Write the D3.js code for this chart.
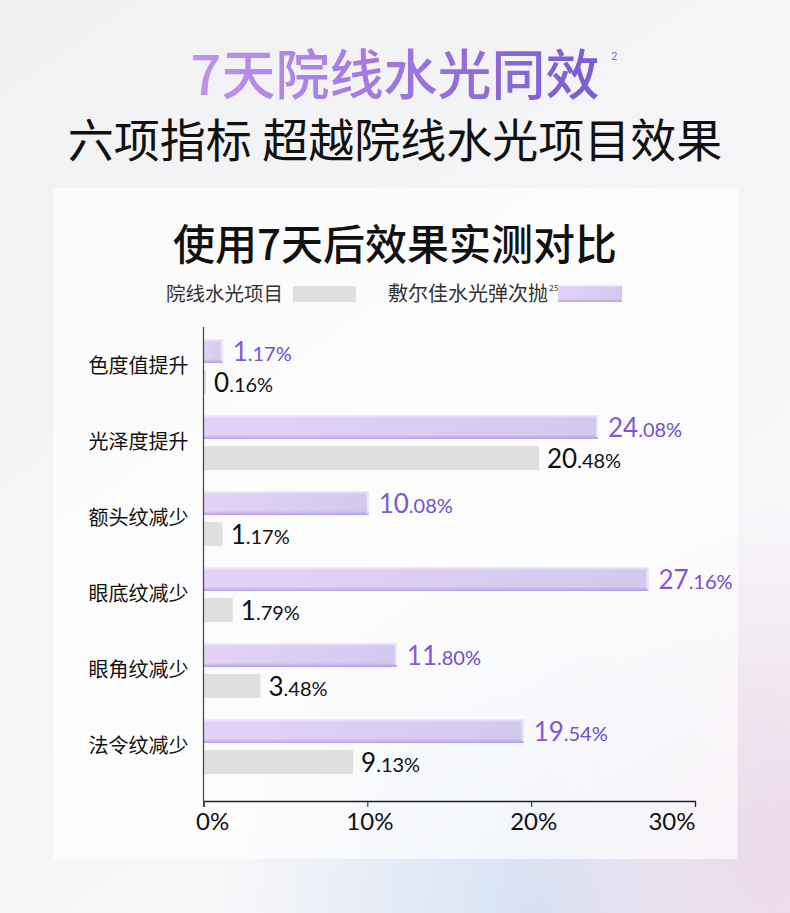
<!DOCTYPE html>
<html>
<head>
<meta charset="utf-8">
<script src="https://cdn.jsdelivr.net/npm/d3@7"></script>
<style>
  html, body { margin: 0; padding: 0; background: #f3f3f5; }
  svg { display: block; }
</style>
</head>
<body>
<script>
// chart data
var categories = ["色度值提升", "光泽度提升", "额头纹减少", "眼底纹减少", "眼角纹减少", "法令纹减少"];
var brandValues = [1.17, 24.08, 10.08, 27.16, 11.80, 19.54];   // 敷尔佳水光弹次抛
var clinicValues = [0.16, 20.48, 1.17, 1.79, 3.48, 9.13];      // 院线水光项目
var xTicks = [0, 10, 20, 30];
var seriesNames = ["院线水光项目", "敷尔佳水光弹次抛"];

var width = 790;
var height = 913;
var cjk = "'Noto Sans CJK SC', 'Noto Sans', sans-serif";
var num = "Lato, 'Open Sans', sans-serif";

var svg = d3.select("body")
  .append("svg")
  .attr("width", width)
  .attr("height", height);

var defs = svg.append("defs");

// page background
var bg = defs.append("linearGradient").attr("id", "bg")
  .attr("x1", 0).attr("y1", 0).attr("x2", 0.6).attr("y2", 1);
bg.append("stop").attr("offset", 0).attr("stop-color", "#f1f1f3");
bg.append("stop").attr("offset", 0.5).attr("stop-color", "#f5f5f7");
bg.append("stop").attr("offset", 1).attr("stop-color", "#f8f7fa");

var glow = defs.append("radialGradient").attr("id", "glow")
  .attr("cx", 0.68).attr("cy", 1.0).attr("r", 0.4);
glow.append("stop").attr("offset", 0).attr("stop-color", "#d4e1f3").attr("stop-opacity", 1);
glow.append("stop").attr("offset", 1).attr("stop-color", "#d4e1f3").attr("stop-opacity", 0);

var glow2 = defs.append("radialGradient").attr("id", "glow2")
  .attr("cx", 1.0).attr("cy", 0.93).attr("r", 0.38);
glow2.append("stop").attr("offset", 0).attr("stop-color", "#ecd8e8").attr("stop-opacity", 1);
glow2.append("stop").attr("offset", 1).attr("stop-color", "#ecd8e8").attr("stop-opacity", 0);

var titleGrad = defs.append("linearGradient").attr("id", "titleGrad")
  .attr("x1", 0).attr("y1", 0).attr("x2", 1).attr("y2", 0);
titleGrad.append("stop").attr("offset", 0).attr("stop-color", "#c193ec");
titleGrad.append("stop").attr("offset", 1).attr("stop-color", "#7b5bd1");

var barGrad = defs.append("linearGradient").attr("id", "barGrad")
  .attr("x1", 0).attr("y1", 0).attr("x2", 1).attr("y2", 0);
barGrad.append("stop").attr("offset", 0).attr("stop-color", "#e3d2f6");
barGrad.append("stop").attr("offset", 1).attr("stop-color", "#d2c8ee");

var barShade = defs.append("linearGradient").attr("id", "barShade")
  .attr("x1", 0).attr("y1", 0).attr("x2", 0).attr("y2", 1);
barShade.append("stop").attr("offset", 0).attr("stop-color", "#f4effd").attr("stop-opacity", 0.9);
barShade.append("stop").attr("offset", 0.15).attr("stop-color", "#f4effd").attr("stop-opacity", 0);
barShade.append("stop").attr("offset", 0.82).attr("stop-color", "#a98fe0").attr("stop-opacity", 0);
barShade.append("stop").attr("offset", 1).attr("stop-color", "#a98fe0").attr("stop-opacity", 0.75);

var valGrad = defs.append("linearGradient").attr("id", "valGrad")
  .attr("x1", 0).attr("y1", 0).attr("x2", 1).attr("y2", 0);
valGrad.append("stop").attr("offset", 0).attr("stop-color", "#8a5bd8");
valGrad.append("stop").attr("offset", 1).attr("stop-color", "#6549c6");

svg.append("rect").attr("width", width).attr("height", height).attr("fill", "url(#bg)");
svg.append("rect").attr("width", width).attr("height", height).attr("fill", "url(#glow)");
svg.append("rect").attr("width", width).attr("height", height).attr("fill", "url(#glow2)");

// panel
svg.append("rect")
  .attr("x", 53).attr("y", 188)
  .attr("width", 685).attr("height", 671)
  .attr("fill", "#ffffff").attr("fill-opacity", 0.65);

// headings
svg.append("text")
  .attr("x", 395).attr("y", 95)
  .attr("text-anchor", "middle")
  .style("font-family", cjk).style("font-size", "54px").style("font-weight", 500)
  .attr("fill", "url(#titleGrad)")
  .text("7天院线水光同效");

svg.append("text")
  .attr("x", 611).attr("y", 60)
  .style("font-family", num).style("font-size", "11px")
  .attr("fill", "#8c6dd6")
  .text("2");

svg.append("text")
  .attr("x", 395).attr("y", 157)
  .attr("text-anchor", "middle")
  .style("font-family", cjk).style("font-size", "46px").style("font-weight", 400)
  .attr("fill", "#111")
  .text("六项指标 超越院线水光项目效果");

svg.append("text")
  .attr("x", 395).attr("y", 260)
  .attr("text-anchor", "middle")
  .style("font-family", cjk).style("font-size", "42px").style("font-weight", 500)
  .attr("fill", "#111")
  .text("使用7天后效果实测对比");

// legend
svg.append("text")
  .attr("x", 283).attr("y", 301)
  .attr("text-anchor", "end")
  .style("font-family", cjk).style("font-size", "19.5px")
  .attr("fill", "#333")
  .text(seriesNames[0]);
svg.append("rect")
  .attr("x", 293).attr("y", 286).attr("width", 63).attr("height", 16)
  .attr("fill", "#e0e0e0");

svg.append("text")
  .attr("x", 548).attr("y", 301)
  .attr("text-anchor", "end")
  .style("font-family", cjk).style("font-size", "20px")
  .attr("fill", "#333")
  .text(seriesNames[1]);
svg.append("text")
  .attr("x", 549).attr("y", 291)
  .style("font-family", num).style("font-size", "8px")
  .attr("fill", "#333")
  .text("25");
svg.append("rect")
  .attr("x", 558).attr("y", 285).attr("width", 64).attr("height", 17)
  .attr("fill", "url(#barGrad)");
svg.append("rect")
  .attr("x", 558).attr("y", 285).attr("width", 64).attr("height", 17)
  .attr("fill", "url(#barShade)");

// scales
var x = d3.scaleLinear()
  .domain([0, 30])
  .range([203.5, 695]);

var y = d3.scaleBand()
  .domain(categories)
  .range([328.5, 784.5]);

var sub = d3.scaleBand()
  .domain(["brand", "clinic"])
  .range([0, 55])
  .paddingInner(0.2258);

function barTop(cat, key) {
  return y(cat) + y.bandwidth() / 2 - 27.5 + sub(key);
}

var rows = categories.map(function(c, i) {
  return { cat: c, brand: brandValues[i], clinic: clinicValues[i] };
});

// brand bars
var bars = svg.append("g");
bars.selectAll(".b")
  .data(rows).enter()
  .append("rect")
  .attr("x", x(0))
  .attr("y", d => barTop(d.cat, "brand"))
  .attr("width", d => x(d.brand) - x(0))
  .attr("height", sub.bandwidth())
  .attr("fill", "url(#barGrad)");
bars.selectAll(".bs")
  .data(rows).enter()
  .append("rect")
  .attr("x", x(0))
  .attr("y", d => barTop(d.cat, "brand"))
  .attr("width", d => x(d.brand) - x(0))
  .attr("height", sub.bandwidth())
  .attr("fill", "url(#barShade)");
bars.selectAll(".be")
  .data(rows).enter()
  .append("rect")
  .attr("x", d => x(d.brand) - 2)
  .attr("y", d => barTop(d.cat, "brand") + 2)
  .attr("width", 2)
  .attr("height", sub.bandwidth() - 4)
  .attr("fill", "#ece6f8");

// clinic bars
bars.selectAll(".c")
  .data(rows).enter()
  .append("rect")
  .attr("x", x(0))
  .attr("y", d => barTop(d.cat, "clinic"))
  .attr("width", d => x(d.clinic) - x(0))
  .attr("height", sub.bandwidth())
  .attr("fill", "#e0e0e0");

// value labels: integer part larger than the decimals
function valueLabel(sel, key, dx, fill) {
  var t = sel.append("text")
    .attr("x", d => x(d[key]) + dx)
    .attr("y", d => barTop(d.cat, key) + sub.bandwidth() - 2)
    .style("font-family", num)
    .style("font-weight", 400)
    .attr("fill", fill);
  t.append("tspan")
    .style("font-size", "26px")
    .text(d => d[key].toFixed(2).split(".")[0]);
  t.append("tspan")
    .style("font-size", "20px")
    .text(d => "." + d[key].toFixed(2).split(".")[1] + "%");
}

var labels = svg.append("g");
labels.selectAll(".bl").data(rows).enter().call(valueLabel, "brand", 10, "url(#valGrad)");
labels.selectAll(".cl").data(rows).enter().call(valueLabel, "clinic", 8, "#111");

// category axis
var yAxis = d3.axisLeft(y).tickSize(0).tickPadding(15);
var gy = svg.append("g")
  .attr("transform", "translate(" + x(0) + ",0)")
  .call(yAxis);
gy.select(".domain").remove();
gy.selectAll("text")
  .style("font-family", cjk)
  .style("font-size", "20px")
  .attr("fill", "#111");

svg.append("line")
  .attr("x1", x(0)).attr("x2", x(0))
  .attr("y1", 327).attr("y2", 801)
  .attr("stroke", "#444").attr("stroke-width", 1.2);

// value axis
var xAxis = d3.axisBottom(x)
  .tickValues(xTicks)
  .tickFormat(d => d + "%")
  .tickSizeOuter(0)
  .tickSize(6)
  .tickPadding(6);

var gx = svg.append("g")
  .attr("transform", "translate(0,801)")
  .call(xAxis);
gx.select(".domain").attr("stroke", "#222").attr("stroke-width", 1.3);
gx.selectAll(".tick line").attr("stroke", "#222");
gx.selectAll("text")
  .style("font-family", num)
  .style("font-size", "24px")
  .style("font-weight", 400)
  .attr("fill", "#111")
  .attr("text-anchor", (d, i) => i === 0 ? "start" : (i === xTicks.length - 1 ? "end" : "middle"))
  .attr("dx", (d, i) => i === 0 ? -8 : (i === xTicks.length - 1 ? 0 : 2));
</script>
</body>
</html>
